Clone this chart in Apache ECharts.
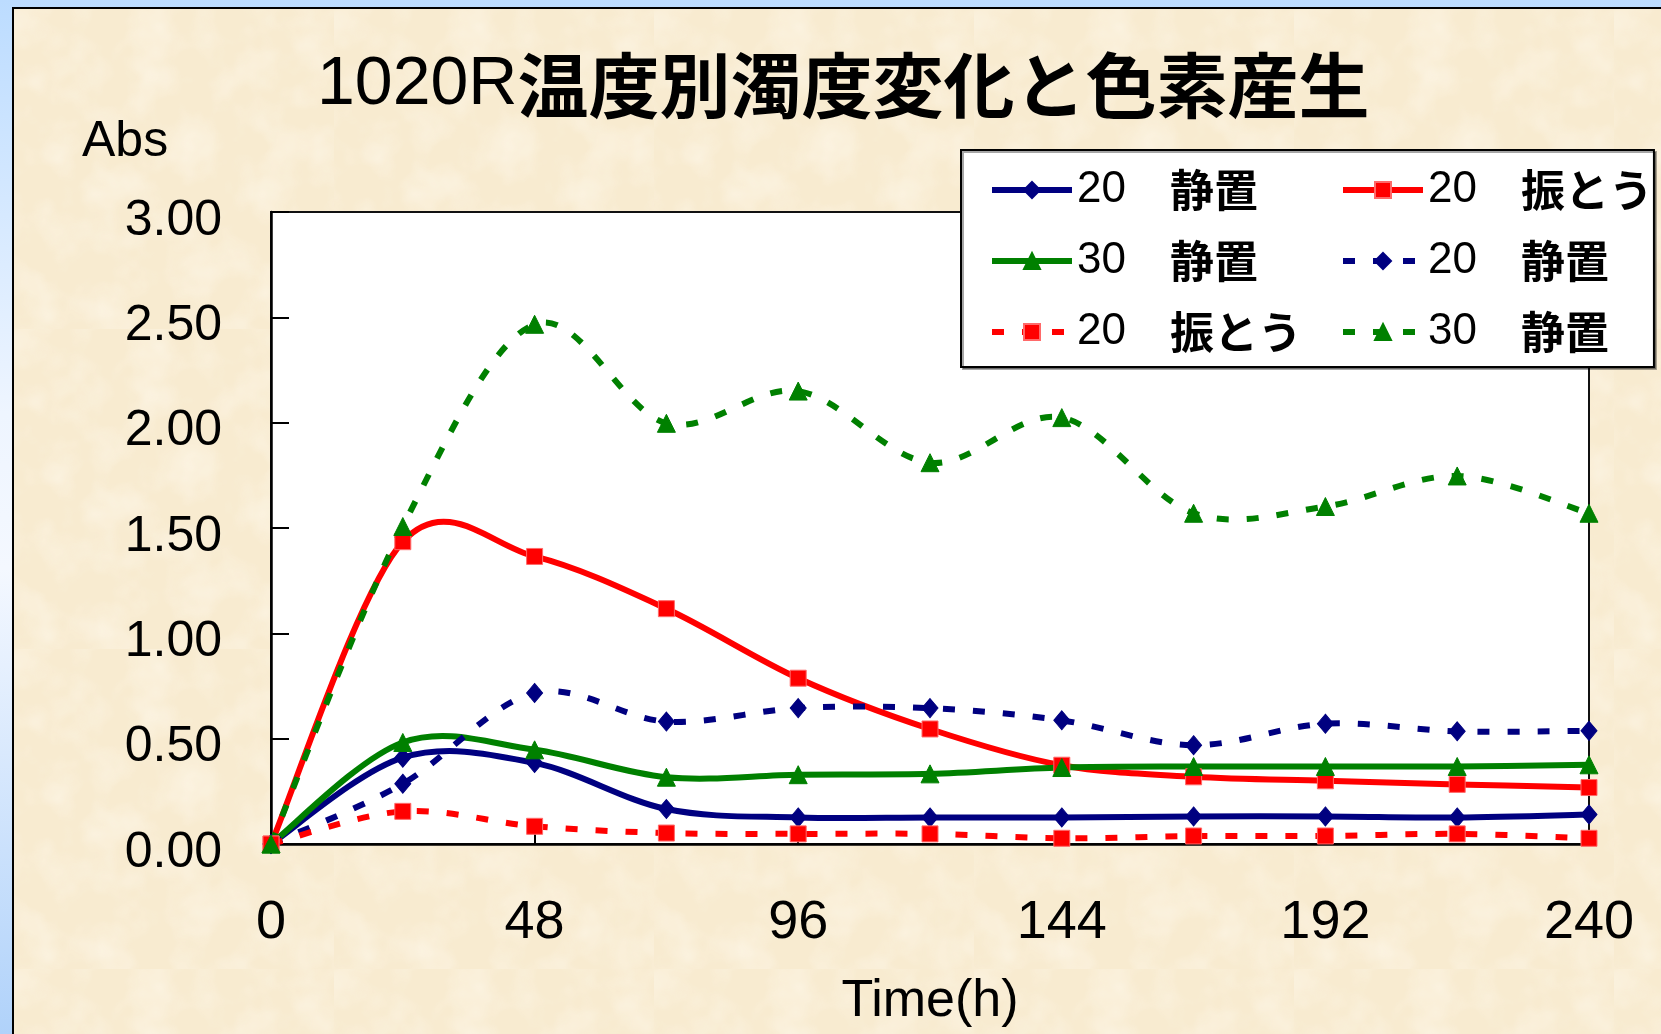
<!DOCTYPE html>
<html>
<head>
<meta charset="utf-8">
<title>1020R温度別濁度変化と色素産生</title>
<script src="https://cdn.jsdelivr.net/npm/echarts@6/dist/echarts.min.js"></script>
<style>
  html, body { margin: 0; padding: 0; width: 1661px; height: 1034px; overflow: hidden; }
  #frame {
    position: absolute; left: 0; top: 0; width: 1661px; height: 1034px;
    background: linear-gradient(to bottom, #bcdcff 0%, #eef5ff 40%, #f4f8ff 55%, #b0d2fa 100%);
  }
  #panel {
    position: absolute; left: 12px; top: 7px; right: 0; bottom: 0;
    border-left: 2px solid #000; border-top: 2px solid #000;
    background-color: #f8ebd0;
    background-image: url("data:image/svg+xml;utf8,<svg xmlns='http://www.w3.org/2000/svg' width='320' height='320'><filter id='n'><feTurbulence type='fractalNoise' baseFrequency='0.025' numOctaves='3' seed='4'/><feColorMatrix values='0 0 0 0 1  0 0 0 0 0.97  0 0 0 0 0.9  0.9 0 0 0 -0.35'/></filter><rect width='100%' height='100%' filter='url(%23n)'/></svg>");
  }
  #chart { position: absolute; left: 0; top: 0; width: 1661px; height: 1034px; }
</style>
</head>
<body>
<div id="frame"><div id="panel"></div></div>
<div id="chart"></div>
<script>
// Sampling times (h)
const hours = [0, 24, 48, 72, 96, 120, 144, 168, 192, 216, 240];

// Turbidity (solid lines)
const turbidity20Still = [0, 0.410, 0.385, 0.166, 0.126, 0.126, 0.126, 0.131, 0.131, 0.126, 0.140];
const turbidity20Shake = [0, 1.435, 1.365, 1.117, 0.787, 0.546, 0.374, 0.319, 0.300, 0.283, 0.268];
const turbidity30Still = [0, 0.482, 0.447, 0.317, 0.329, 0.333, 0.363, 0.368, 0.368, 0.368, 0.376];

// Pigment (broken lines)
const pigment20Still = [0, 0.286, 0.717, 0.581, 0.645, 0.645, 0.587, 0.469, 0.571, 0.535, 0.537];
const pigment20Shake = [0, 0.155, 0.084, 0.052, 0.048, 0.048, 0.027, 0.038, 0.038, 0.048, 0.027];
const pigment30Still = [0, 1.507, 2.467, 1.997, 2.150, 1.810, 2.024, 1.570, 1.602, 1.747, 1.570];

// Legend text parts, in series order
const seriesTemps = ['20', '20', '30', '20', '20', '30'];
const seriesModes = ['静置', '振とう', '静置', '静置', '振とう', '静置'];
const seriesKinds = ['濁度', '濁度', '濁度', '色素', '色素', '色素'];

const seriesValues = [turbidity20Still, turbidity20Shake, turbidity30Still,
                      pigment20Still, pigment20Shake, pigment30Still];
const seriesColors = ['#000080', '#ff0000', '#008000', '#000080', '#ff0000', '#008000'];
const seriesSymbols = ['diamond', 'rect', 'triangle', 'diamond', 'rect', 'triangle'];
const seriesDashed = [false, false, false, true, true, true];

const seriesNames = seriesKinds.map((k, i) => k + ' ' + seriesTemps[i] + ' ' + seriesModes[i]);

const DASH = [12, 18];
const LINE_WIDTH = 6;
const symbolSizeOf = s => s === 'diamond' ? [16, 19] : (s === 'rect' ? 16 : 18);

const chart = echarts.init(document.getElementById('chart'), null, { renderer: 'canvas' });

const latin = 'Liberation Sans, Arial, sans-serif';
const cjk = 'Noto Sans CJK JP, sans-serif';

// Smooth curve through the points (cardinal spline, tension 1/6),
// built from pixel positions given by the cartesian coordinate system.
function smoothCurve(points, color, dashed) {
  return function (params, api) {
    if (params.dataIndex !== 0) return null;
    const p = points.map(d => api.coord(d));
    const n = p.length;
    let d = 'M ' + p[0][0] + ' ' + p[0][1];
    for (let k = 0; k < n - 1; k++) {
      const p0 = p[Math.max(k - 1, 0)], p1 = p[k], p2 = p[k + 1], p3 = p[Math.min(k + 2, n - 1)];
      const c1x = p1[0] + (p2[0] - p0[0]) / 6, c1y = p1[1] + (p2[1] - p0[1]) / 6;
      const c2x = p2[0] - (p3[0] - p1[0]) / 6, c2y = p2[1] - (p3[1] - p1[1]) / 6;
      d += ' C ' + c1x + ' ' + c1y + ' ' + c2x + ' ' + c2y + ' ' + p2[0] + ' ' + p2[1];
    }
    return {
      type: 'path',
      shape: { pathData: d },
      style: {
        fill: 'none', stroke: color, lineWidth: LINE_WIDTH,
        lineDash: dashed ? DASH : null, lineCap: 'butt', lineJoin: 'round'
      }
    };
  };
}

const series = [];
seriesValues.forEach((vals, i) => {
  const points = hours.map((h, j) => [h, vals[j]]);
  // the curve
  series.push({
    type: 'custom',
    data: points,
    encode: { x: 0, y: 1 },
    renderItem: smoothCurve(points, seriesColors[i], seriesDashed[i]),
    silent: true,
    clip: false
  });
  // the markers (and the legend entry)
  series.push({
    name: seriesNames[i],
    type: 'line',
    data: points,
    symbol: seriesSymbols[i],
    symbolSize: symbolSizeOf(seriesSymbols[i]),
    showSymbol: true,
    clip: false,
    lineStyle: { color: seriesColors[i], width: 0, type: seriesDashed[i] ? DASH : 'solid', cap: 'butt' },
    itemStyle: {
      color: seriesColors[i],
      borderColor: seriesSymbols[i] === 'rect' ? '#ff6a6a' : seriesColors[i],
      borderWidth: 1
    },
    emphasis: { disabled: true }
  });
});

// Shared legend look; two columns, each its own vertical legend
const legendCommon = {
  orient: 'vertical',
  selectedMode: false,
  itemWidth: 80, itemHeight: 20, itemGap: 27,
  lineStyle: { width: LINE_WIDTH },
  formatter: name => {
    const i = seriesNames.indexOf(name);
    return '{n|' + seriesTemps[i] + '}{c|　' + seriesModes[i] + '}';
  },
  textStyle: {
    lineHeight: 27,
    rich: {
      n: { fontFamily: latin, fontSize: 44, color: '#000', lineHeight: 27 },
      c: { fontFamily: cjk, fontWeight: 'bold', fontSize: 44, color: '#000', lineHeight: 27 }
    }
  }
};

const option = {
  animation: false,
  backgroundColor: 'transparent',
  title: [
    {
      text: '{a|1020R}{b|温度別濁度変化と色素産生}',
      left: 312, top: 40,
      textStyle: {
        rich: {
          a: { fontFamily: latin, fontWeight: 'normal', fontSize: 68, color: '#000', lineHeight: 80 },
          b: { fontFamily: cjk, fontWeight: 'bold', fontSize: 71, color: '#000', lineHeight: 80 }
        }
      }
    },
    {
      text: 'Abs',
      left: 77, top: 112,
      textStyle: { fontFamily: latin, fontSize: 50, fontWeight: 'normal', color: '#000' }
    }
  ],
  legend: [
    Object.assign({}, legendCommon, {
      left: 961, top: 150,
      padding: [18, 352, 13, 28],
      backgroundColor: '#fff', borderColor: '#000', borderWidth: 2,
      shadowColor: 'rgba(0,0,0,0.35)', shadowOffsetX: 2, shadowOffsetY: 2,
      data: [seriesNames[0], seriesNames[2], seriesNames[4]]
    }),
    Object.assign({}, legendCommon, {
      left: 1340, top: 168, z: 6,
      padding: 0,
      data: [seriesNames[1], seriesNames[3], seriesNames[5]]
    })
  ],
  grid: {
    left: 271, top: 212, right: 72, bottom: 190,
    show: true, backgroundColor: '#fff', borderColor: '#111', borderWidth: 2,
    outerBoundsMode: 'none'
  },
  xAxis: {
    type: 'value', min: 0, max: 240, interval: 48,
    axisLine: { show: true, onZero: false, lineStyle: { color: '#000', width: 2.5 } },
    axisTick: { show: true, inside: true, length: 12, lineStyle: { color: '#000', width: 2 } },
    axisLabel: { fontFamily: latin, fontSize: 54, color: '#000', margin: 52 },
    splitLine: { show: false },
    name: 'Time(h)', nameLocation: 'middle', nameGap: 132,
    nameTextStyle: { fontFamily: latin, fontSize: 52, color: '#000' }
  },
  yAxis: {
    type: 'value', min: 0, max: 3, interval: 0.5,
    axisLine: { show: true, lineStyle: { color: '#000', width: 2.5 } },
    axisTick: { show: true, inside: true, length: 18, lineStyle: { color: '#000', width: 2 } },
    axisLabel: {
      formatter: v => v.toFixed(2), fontFamily: latin, fontSize: 50, color: '#000',
      margin: 49, verticalAlign: 'top', lineHeight: 18
    },
    splitLine: { show: false }
  },
  series: series
};

chart.setOption(option);
</script>
</body>
</html>
